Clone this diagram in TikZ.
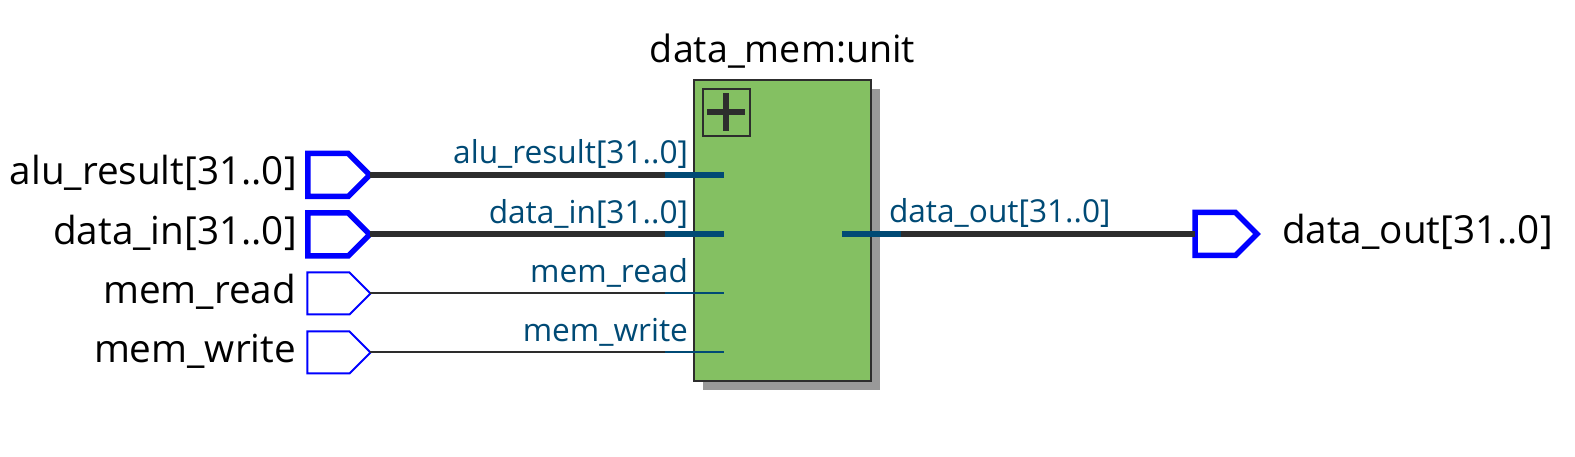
\documentclass[tikz,border=0pt]{standalone}
\usepackage{fontspec}
\setmainfont{Open Sans}
\usetikzlibrary{positioning, shapes.symbols, shadows, calc}
\definecolor{wiredark}{HTML}{2D2D2D}
\definecolor{wireport}{HTML}{004A75}
\definecolor{blockgreen}{HTML}{84C062}
\definecolor{blockshadow}{HTML}{999999}
\begin{document}
\begin{tikzpicture}[
    outer sep=0pt,
    pin/.style={signal, signal to=east, signal pointer angle=90, draw=blue, fill=white, line width=0.02cm, minimum width=0.63cm, minimum height=0.42cm, inner sep=0pt},
    buspin/.style={pin, line width=0.055cm, minimum width=0.62cm, minimum height=0.43cm},
    pinlabel/.style={font=\fontsize{11pt}{13pt}\selectfont, text height=0.27cm, text depth=0.07cm, inner sep=0pt},
    portlabel/.style={font=\fontsize{9pt}{11pt}\selectfont, text=wireport, text height=0.21cm, text depth=0.06cm, inner sep=0pt},
    wire/.style={wiredark, line width=0.02cm},
    port/.style={wireport, line width=0.02cm},
    bus/.style={wiredark, line width=0.06cm},
    busport/.style={wireport, line width=0.06cm}
]
\useasboundingbox (0,0) rectangle (15.75,-4.57);

% Block
\node[draw=wiredark, line width=0.02cm, fill=blockgreen, minimum width=1.77cm, minimum height=3.01cm, drop shadow={shadow xshift=0.09cm, shadow yshift=-0.09cm, fill=blockshadow, opacity=1}] (unit) at (7.825,-2.305) {};
\node[above=0.10cm of unit, pinlabel, font=\fontsize{10.7pt}{13pt}\selectfont] (unitname) {data\_mem:unit};

% Expand button
\node[draw=wiredark, line width=0.02cm, minimum size=0.47cm, below right=0.087cm and 0.087cm of unit.north west] (expand) {};
\node[fill=wiredark, minimum width=0.385cm, minimum height=0.06cm, inner sep=0pt] (expandh) at (expand.center) {};
\node[fill=wiredark, minimum width=0.06cm, minimum height=0.385cm, inner sep=0pt] (expandv) at (expand.center) {};

% Input pins
\node[buspin] (alupin) at (3.28,-1.75) {};
\node[buspin, below=0.165cm of alupin] (datapin) {};
\node[pin, below=0.165cm of datapin.south east, anchor=north east, xshift=0.012cm] (readpin) {};
\node[pin, below=0.17cm of readpin] (writepin) {};

% Output pin
\node[buspin, anchor=west] (outpin) at (11.95,-2.34) {};

% Pin labels
\node[pinlabel, left=0.11cm of alupin] (alulabel) {alu\_result[31..0]};
\node[pinlabel, left=0.11cm of datapin] (datalabel) {data\_in[31..0]};
\node[pinlabel, left=0.115cm of readpin] (readlabel) {mem\_read};
\node[pinlabel, left=0.115cm of writepin] (writelabel) {mem\_write};
\node[pinlabel, right=0.25cm of outpin] (outlabel) {data\_out[31..0]};

% Wire ends
\coordinate (alusplit) at ($(alupin.east -| unit.west)+(-0.29,0)$);
\coordinate (datasplit) at ($(datapin.east -| unit.west)+(-0.29,0)$);
\coordinate (readsplit) at ($(readpin.east -| unit.west)+(-0.29,0)$);
\coordinate (writesplit) at ($(writepin.east -| unit.west)+(-0.29,0)$);
\coordinate (aluend) at ($(alupin.east -| unit.west)+(0.30,0)$);
\coordinate (dataend) at ($(datapin.east -| unit.west)+(0.30,0)$);
\coordinate (readend) at ($(readpin.east -| unit.west)+(0.30,0)$);
\coordinate (writeend) at ($(writepin.east -| unit.west)+(0.30,0)$);
\coordinate (outstart) at ($(outpin.west -| unit.east)+(-0.29,0)$);
\coordinate (outsplit) at ($(outpin.west -| unit.east)+(0.30,0)$);

% Wires
\draw[bus] (alupin.east) -- (alusplit);
\draw[busport] (alusplit) -- (aluend);
\draw[bus] (datapin.east) -- (datasplit);
\draw[busport] (datasplit) -- (dataend);
\draw[wire] (readpin.east) -- (readsplit);
\draw[port] (readsplit) -- (readend);
\draw[wire] (writepin.east) -- (writesplit);
\draw[port] (writesplit) -- (writeend);
\draw[busport] (outstart) -- (outsplit);
\draw[bus] (outsplit) -- (outpin.west);

% Port labels
\node[portlabel, above left=0.05cm and 0.36cm of aluend] (aluport) {alu\_result[31..0]};
\node[portlabel, above left=0.05cm and 0.36cm of dataend] (dataport) {data\_in[31..0]};
\node[portlabel, above left=0.05cm and 0.36cm of readend] (readport) {mem\_read};
\node[portlabel, above left=0.05cm and 0.36cm of writeend] (writeport) {mem\_write};
\node[portlabel, above right=0.05cm and 0.47cm of outstart] (outport) {data\_out[31..0]};

\end{tikzpicture}
\end{document}
